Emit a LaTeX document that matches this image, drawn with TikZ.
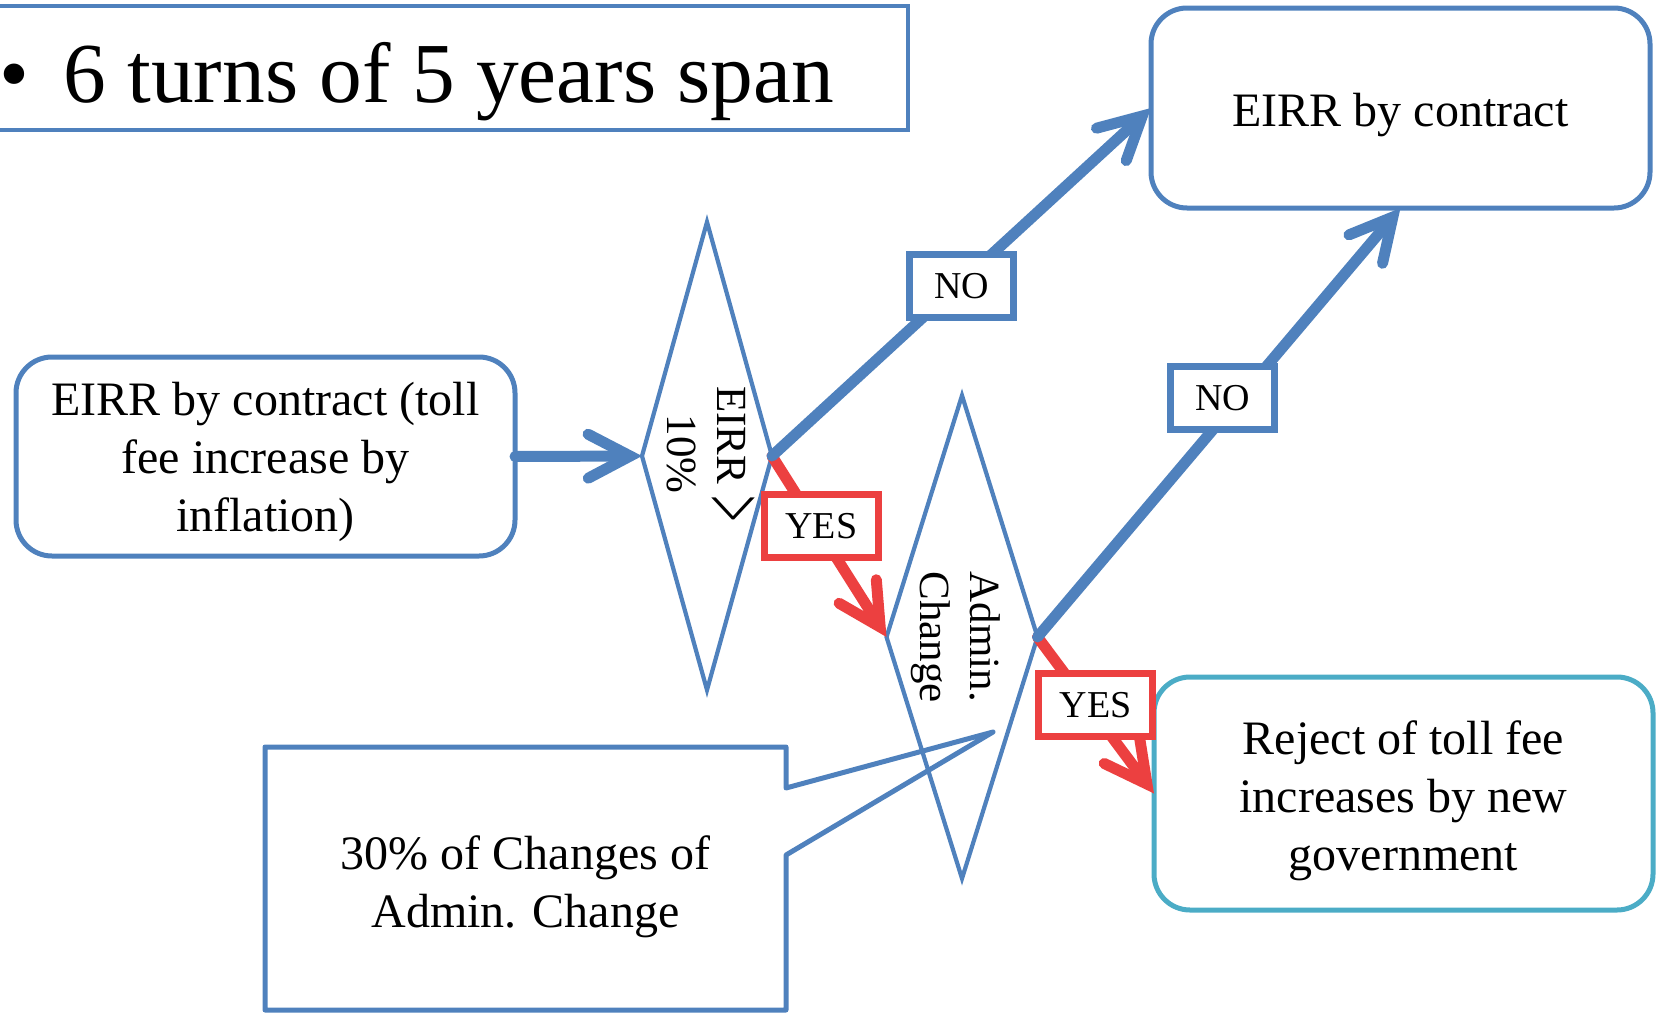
\documentclass[tikz,border=0pt]{standalone}
\usepackage{fontspec}
\setmainfont{Liberation Serif}
\usetikzlibrary{arrows.meta,shapes.geometric,calc}

\definecolor{flowblue}{RGB}{79,129,189}
\definecolor{flowred}{RGB}{236,64,64}
\definecolor{flowteal}{RGB}{75,172,198}

\begin{document}
\begin{tikzpicture}[x=0.5pt,y=-0.5pt,
  roundbox/.style={draw=flowblue, line width=2.5pt, rounded corners=18pt,
    inner sep=0pt, outer sep=0pt},
  boxtext/.style={align=center, font=\fontsize{24}{29}\selectfont, inner sep=0pt},
  decision/.style={draw=flowblue, line width=2.1pt, shape=diamond,
    inner sep=0pt, outer sep=0pt},
  vtext/.style={rotate=-90, align=center, font=\fontsize{21.5}{25}\selectfont},
  tag/.style={line width=3.5pt, fill=white, font=\fontsize{19}{22}\selectfont,
    minimum height=31.5pt, inner sep=0pt},
  flow/.style={line width=5.5pt, line cap=round,
    -{Straight Barb[length=21pt,width=22pt,line cap=round,line join=miter]}},
]
\useasboundingbox (0,0) rectangle (1659,1012);

% heading
\node[draw=flowblue, line width=2pt, minimum width=464pt, minimum height=62pt,
  inner sep=0pt] (headbox) at (444,68) {};
\node[anchor=base west, inner sep=0pt, font=\fontsize{42.7}{50}\selectfont]
  (headtext) at (63,102) {\llap{\textbullet\hspace{17pt}}6 turns of 5 years span};

% boxes and their texts
\node[roundbox, minimum width=249.5pt, minimum height=99.5pt] (start) at (265.5,456.5) {};
\node[boxtext, yshift=-2.5pt] (starttext) at (start.center)
  {EIRR by contract (toll\\fee increase by\\inflation)};
\node[roundbox, minimum width=249.5pt, minimum height=100pt] (keep) at (1400.5,108) {};
\node[boxtext, yshift=-3.5pt] (keeptext) at (keep.center) {EIRR by contract};
\node[roundbox, draw=flowteal, minimum width=249.5pt, minimum height=116.5pt] (reject)
  at (1403.5,793.5) {};
\node[boxtext, yshift=-3.7pt] (rejecttext) at (reject.center)
  {Reject of toll fee\\increases by new\\government};

% callout with its pointer
\coordinate (tip) at (993,732);
\node[minimum width=260.5pt, minimum height=131.5pt, inner sep=0pt, outer sep=0pt]
  (note) at (525.5,878.5) {};
\draw[flowblue, line width=2.5pt, line join=round] (note.north west) -- (note.north east)
  -- ($(note.north east)+(0,41)$) -- (tip) -- ($(note.north east)+(0,108)$)
  -- (note.south east) -- (note.south west) -- cycle;
\node[boxtext, yshift=-4pt] (notetext) at (note.center)
  {30\% of Changes of\\Admin. Change};

% decisions
\node[decision, minimum width=65pt, minimum height=234pt] (d1) at (707,456) {};
\node[vtext] (d1text) at (706,454)
  {EIRR \raisebox{-0.33em}[0.6em][0pt]{\scalebox{1.1}[2.1]{>}}\\10\%};
\node[decision, minimum width=75.5pt, minimum height=241.5pt] (d2) at (962,637) {};
\node[vtext] (d2text) at (956,637) {Admin.\\Change};

% connectors: red ones first so that the blue ones lie on top at the vertices
\draw[flow, flowred] (d1.east) -- node[tag, draw=flowred, text=black,
  minimum width=57pt, pos=0.43, yshift=4pt] (yes1) {YES} (d2.west);
\draw[flow, flowred] (d2.east) -- node[tag, draw=flowred, text=black,
  minimum width=57pt, pos=0.5, yshift=5pt] (yes2) {YES} (reject.west);
\draw[flow, flowblue] (start.east) -- (d1.west);
\draw[flow, flowblue] (d1.east) -- node[tag, draw=flowblue, text=black,
  minimum width=52pt, pos=0.5, yshift=-2pt] (no1) {NO} (keep.west);
\draw[flow, flowblue] (d2.east) -- node[tag, draw=flowblue, text=black,
  minimum width=52pt, pos=0.51, yshift=10pt] (no2) {NO} (keep.south);
\end{tikzpicture}
\end{document}
